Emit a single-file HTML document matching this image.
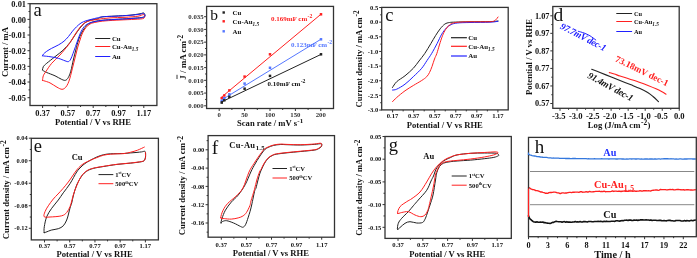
<!DOCTYPE html>
<html><head><meta charset="utf-8"><style>
html,body{margin:0;padding:0;background:#fff;width:697px;height:258px;overflow:hidden}
svg{display:block;will-change:transform}
</style></head><body>
<svg width="697" height="258" viewBox="0 0 697 258">
<rect width="697" height="258" fill="#fff"/>
<line x1="30" y1="3.7" x2="27.5" y2="3.7" stroke="#333" stroke-width="1.0"/>
<line x1="30" y1="19.37" x2="27.5" y2="19.37" stroke="#333" stroke-width="1.0"/>
<line x1="30" y1="35.03" x2="27.5" y2="35.03" stroke="#333" stroke-width="1.0"/>
<line x1="30" y1="50.7" x2="27.5" y2="50.7" stroke="#333" stroke-width="1.0"/>
<line x1="30" y1="66.37" x2="27.5" y2="66.37" stroke="#333" stroke-width="1.0"/>
<line x1="30" y1="82.03" x2="27.5" y2="82.03" stroke="#333" stroke-width="1.0"/>
<line x1="30" y1="97.7" x2="27.5" y2="97.7" stroke="#333" stroke-width="1.0"/>
<line x1="30" y1="11.53" x2="28.5" y2="11.53" stroke="#333" stroke-width="1.0"/>
<line x1="30" y1="27.2" x2="28.5" y2="27.2" stroke="#333" stroke-width="1.0"/>
<line x1="30" y1="42.87" x2="28.5" y2="42.87" stroke="#333" stroke-width="1.0"/>
<line x1="30" y1="58.53" x2="28.5" y2="58.53" stroke="#333" stroke-width="1.0"/>
<line x1="30" y1="74.2" x2="28.5" y2="74.2" stroke="#333" stroke-width="1.0"/>
<line x1="30" y1="89.87" x2="28.5" y2="89.87" stroke="#333" stroke-width="1.0"/>
<line x1="42.6" y1="105.5" x2="42.6" y2="108" stroke="#333" stroke-width="1.0"/>
<line x1="67.9" y1="105.5" x2="67.9" y2="108" stroke="#333" stroke-width="1.0"/>
<line x1="93.2" y1="105.5" x2="93.2" y2="108" stroke="#333" stroke-width="1.0"/>
<line x1="118.5" y1="105.5" x2="118.5" y2="108" stroke="#333" stroke-width="1.0"/>
<line x1="143.8" y1="105.5" x2="143.8" y2="108" stroke="#333" stroke-width="1.0"/>
<line x1="55.25" y1="105.5" x2="55.25" y2="107" stroke="#333" stroke-width="1.0"/>
<line x1="80.55" y1="105.5" x2="80.55" y2="107" stroke="#333" stroke-width="1.0"/>
<line x1="105.85" y1="105.5" x2="105.85" y2="107" stroke="#333" stroke-width="1.0"/>
<line x1="131.15" y1="105.5" x2="131.15" y2="107" stroke="#333" stroke-width="1.0"/>
<text x="26" y="6.9" font-family='"Liberation Serif", serif' font-size="8.4" font-weight="bold" fill="#111" text-anchor="end" >0.01</text>
<text x="26" y="22.57" font-family='"Liberation Serif", serif' font-size="8.4" font-weight="bold" fill="#111" text-anchor="end" >0.00</text>
<text x="26" y="38.23" font-family='"Liberation Serif", serif' font-size="8.4" font-weight="bold" fill="#111" text-anchor="end" >-0.01</text>
<text x="26" y="53.9" font-family='"Liberation Serif", serif' font-size="8.4" font-weight="bold" fill="#111" text-anchor="end" >-0.02</text>
<text x="26" y="69.57" font-family='"Liberation Serif", serif' font-size="8.4" font-weight="bold" fill="#111" text-anchor="end" >-0.03</text>
<text x="26" y="85.23" font-family='"Liberation Serif", serif' font-size="8.4" font-weight="bold" fill="#111" text-anchor="end" >-0.04</text>
<text x="26" y="100.9" font-family='"Liberation Serif", serif' font-size="8.4" font-weight="bold" fill="#111" text-anchor="end" >-0.05</text>
<text x="42.6" y="116.1" font-family='"Liberation Serif", serif' font-size="8.4" font-weight="bold" fill="#111" text-anchor="middle" >0.37</text>
<text x="67.9" y="116.1" font-family='"Liberation Serif", serif' font-size="8.4" font-weight="bold" fill="#111" text-anchor="middle" >0.57</text>
<text x="93.2" y="116.1" font-family='"Liberation Serif", serif' font-size="8.4" font-weight="bold" fill="#111" text-anchor="middle" >0.77</text>
<text x="118.5" y="116.1" font-family='"Liberation Serif", serif' font-size="8.4" font-weight="bold" fill="#111" text-anchor="middle" >0.97</text>
<text x="143.8" y="116.1" font-family='"Liberation Serif", serif' font-size="8.4" font-weight="bold" fill="#111" text-anchor="middle" >1.17</text>
<text x="93" y="124.7" font-family='"Liberation Serif", serif' font-size="8.6" font-weight="bold" fill="#111" text-anchor="middle" >Potential / V vs RHE</text>
<text x="7.5" y="52" font-family='"Liberation Serif", serif' font-size="8.6" font-weight="bold" fill="#111" text-anchor="middle" transform="rotate(-90 7.5 52)" >Current / mA</text>
<text x="33.4" y="15.8" font-family='"Liberation Serif", serif' font-size="18.5" font-weight="normal" fill="#111" text-anchor="start" >a</text>
<line x1="95.2" y1="38.5" x2="110.3" y2="38.5" stroke="#222" stroke-width="1.0"/>
<text x="111.9" y="40.9" font-family='"Liberation Serif", serif' font-size="6.9" font-weight="bold" fill="#111" text-anchor="start" >Cu</text>
<line x1="95.2" y1="46.5" x2="110.3" y2="46.5" stroke="#ff2020" stroke-width="1.0"/>
<text x="111.9" y="48.9" font-family='"Liberation Serif", serif' font-size="6.9" font-weight="bold" fill="#111" text-anchor="start" >Cu-Au<tspan font-size="5.2" dy="1.8" font-style="italic">1.5</tspan></text>
<line x1="95.2" y1="56.5" x2="110.3" y2="56.5" stroke="#2020ff" stroke-width="1.0"/>
<text x="111.9" y="58.9" font-family='"Liberation Serif", serif' font-size="6.9" font-weight="bold" fill="#111" text-anchor="start" >Au</text>
<path d="M42.5,70 C42.63,69.45 42.6,67.82 43.3,66.7 C44,65.58 44.75,64.97 46.7,63.3 C48.65,61.63 52.23,58.92 55,56.7 C57.77,54.48 60.8,52.37 63.3,50 C65.8,47.63 68.05,45 70,42.5 C71.95,40 73.33,37.42 75,35 C76.67,32.58 78.37,30.02 80,28 C81.63,25.98 83.13,24.2 84.8,22.9 C86.47,21.6 87.93,20.87 90,20.2 C92.07,19.53 95.17,19.45 97.2,18.9 C99.23,18.35 99.23,17.37 102.2,16.9 C105.17,16.43 110.37,16.38 115,16.1 C119.63,15.82 125.83,15.58 130,15.2 C134.17,14.82 137.7,14.17 140,13.8 C142.3,13.43 143.17,12.47 143.8,13 C144.43,13.53 146.1,16.08 143.8,17 C141.5,17.92 134.8,18.1 130,18.5 C125.2,18.9 119.5,19.12 115,19.4 C110.5,19.68 106.33,19.87 103,20.2 C99.67,20.53 97.33,20.85 95,21.4 C92.67,21.95 90.67,22.48 89,23.5 C87.33,24.52 86.25,25.92 85,27.5 C83.75,29.08 82.58,30.92 81.5,33 C80.42,35.08 79.45,37.17 78.5,40 C77.55,42.83 76.67,46.67 75.8,50 C74.93,53.33 74.13,56.47 73.3,60 C72.47,63.53 71.63,68.28 70.8,71.2 C69.97,74.12 69.18,75.98 68.3,77.5 C67.42,79.02 66.6,79.98 65.5,80.3 C64.4,80.62 63.45,80.15 61.7,79.4 C59.95,78.65 57.5,76.95 55,75.8 C52.5,74.65 48.7,73.38 46.7,72.5 C44.7,71.62 43.62,70.83 43,70.5" fill="none" stroke="#222" stroke-width="1.0" stroke-linejoin="round" stroke-linecap="round" />
<path d="M42.5,80.5 C42.63,79.72 42.75,77.27 43.3,75.8 C43.85,74.33 44.4,73.78 45.8,71.7 C47.2,69.62 49.33,66.08 51.7,63.3 C54.07,60.52 57.23,58.05 60,55 C62.77,51.95 66.35,47.5 68.3,45 C70.25,42.5 70.4,42.03 71.7,40 C73,37.97 74.43,35.23 76.1,32.8 C77.77,30.37 79.83,27.27 81.7,25.4 C83.57,23.53 84.72,22.6 87.3,21.6 C89.88,20.6 93.42,20.02 97.2,19.4 C100.98,18.78 105.37,18.25 110,17.9 C114.63,17.55 120.33,17.58 125,17.3 C129.67,17.02 134.87,16.65 138,16.2 C141.13,15.75 142.83,14.25 143.8,14.6 C144.77,14.95 145.27,17.52 143.8,18.3 C142.33,19.08 138.97,19.02 135,19.3 C131.03,19.58 125,19.73 120,20 C115,20.27 109,20.53 105,20.9 C101,21.27 98.5,21.68 96,22.2 C93.5,22.72 91.67,23.12 90,24 C88.33,24.88 87.25,26 86,27.5 C84.75,29 83.5,30.92 82.5,33 C81.5,35.08 80.83,37.5 80,40 C79.17,42.5 78.25,45.33 77.5,48 C76.75,50.67 76.17,53.33 75.5,56 C74.83,58.67 74.17,61.33 73.5,64 C72.83,66.67 72.12,69.58 71.5,72 C70.88,74.42 70.38,76.58 69.8,78.5 C69.22,80.42 68.72,82 68,83.5 C67.28,85 66.5,86.53 65.5,87.5 C64.5,88.47 63.42,89.35 62,89.3 C60.58,89.25 59,88.27 57,87.2 C55,86.13 52.17,83.97 50,82.9 C47.83,81.83 45.25,81.2 44,80.8 C42.75,80.4 42.75,80.55 42.5,80.5" fill="none" stroke="#ff2020" stroke-width="1.0" stroke-linejoin="round" stroke-linecap="round" />
<path d="M42.5,55.8 C42.67,55.5 42.8,54.75 43.5,54 C44.2,53.25 45.33,52.25 46.7,51.3 C48.07,50.35 49.77,49.35 51.7,48.3 C53.63,47.25 56.25,46.18 58.3,45 C60.35,43.82 62.3,42.62 64,41.2 C65.7,39.78 67.08,38.17 68.5,36.5 C69.92,34.83 71.17,32.82 72.5,31.2 C73.83,29.58 75.08,28.17 76.5,26.8 C77.92,25.43 79.42,24 81,23 C82.58,22 84.17,21.43 86,20.8 C87.83,20.17 90.13,19.68 92,19.2 C93.87,18.72 95.3,18.32 97.2,17.9 C99.1,17.48 100.43,16.98 103.4,16.7 C106.37,16.42 110.57,16.43 115,16.2 C119.43,15.97 125.83,15.63 130,15.3 C134.17,14.97 137.7,14.52 140,14.2 C142.3,13.88 143.17,12.9 143.8,13.4 C144.43,13.9 146.1,16.33 143.8,17.2 C141.5,18.07 134.8,18.22 130,18.6 C125.2,18.98 119.43,19.22 115,19.5 C110.57,19.78 106.78,19.95 103.4,20.3 C100.02,20.65 97.18,21.07 94.7,21.6 C92.22,22.13 90.25,22.67 88.5,23.5 C86.75,24.33 85.53,25.05 84.2,26.6 C82.87,28.15 81.57,30.57 80.5,32.8 C79.43,35.03 78.63,37.72 77.8,40 C76.97,42.28 76.3,44.25 75.5,46.5 C74.7,48.75 73.78,51.42 73,53.5 C72.22,55.58 71.55,57.65 70.8,59 C70.05,60.35 69.47,61.3 68.5,61.6 C67.53,61.9 66.7,61.35 65,60.8 C63.3,60.25 60.8,58.98 58.3,58.3 C55.8,57.62 52.38,57.08 50,56.7 C47.62,56.32 45.25,56.15 44,56 C42.75,55.85 42.75,55.83 42.5,55.8" fill="none" stroke="#2020ff" stroke-width="1.0" stroke-linejoin="round" stroke-linecap="round" />
<rect x="30" y="3.7" width="126.9" height="101.8" fill="none" stroke="#333" stroke-width="1.3"/>
<line x1="206.6" y1="105.8" x2="204.1" y2="105.8" stroke="#333" stroke-width="1.0"/>
<line x1="206.6" y1="93.07" x2="204.1" y2="93.07" stroke="#333" stroke-width="1.0"/>
<line x1="206.6" y1="80.34" x2="204.1" y2="80.34" stroke="#333" stroke-width="1.0"/>
<line x1="206.6" y1="67.61" x2="204.1" y2="67.61" stroke="#333" stroke-width="1.0"/>
<line x1="206.6" y1="54.88" x2="204.1" y2="54.88" stroke="#333" stroke-width="1.0"/>
<line x1="206.6" y1="42.15" x2="204.1" y2="42.15" stroke="#333" stroke-width="1.0"/>
<line x1="206.6" y1="29.42" x2="204.1" y2="29.42" stroke="#333" stroke-width="1.0"/>
<line x1="206.6" y1="16.69" x2="204.1" y2="16.69" stroke="#333" stroke-width="1.0"/>
<line x1="206.6" y1="99.44" x2="205.1" y2="99.44" stroke="#333" stroke-width="1.0"/>
<line x1="206.6" y1="86.7" x2="205.1" y2="86.7" stroke="#333" stroke-width="1.0"/>
<line x1="206.6" y1="73.97" x2="205.1" y2="73.97" stroke="#333" stroke-width="1.0"/>
<line x1="206.6" y1="61.24" x2="205.1" y2="61.24" stroke="#333" stroke-width="1.0"/>
<line x1="206.6" y1="48.51" x2="205.1" y2="48.51" stroke="#333" stroke-width="1.0"/>
<line x1="206.6" y1="35.78" x2="205.1" y2="35.78" stroke="#333" stroke-width="1.0"/>
<line x1="206.6" y1="23.05" x2="205.1" y2="23.05" stroke="#333" stroke-width="1.0"/>
<text x="203.6" y="108.1" font-family='"Liberation Serif", serif' font-size="6.8" font-weight="bold" fill="#333" text-anchor="end" >0.000</text>
<text x="203.6" y="95.37" font-family='"Liberation Serif", serif' font-size="6.8" font-weight="bold" fill="#333" text-anchor="end" >0.005</text>
<text x="203.6" y="82.64" font-family='"Liberation Serif", serif' font-size="6.8" font-weight="bold" fill="#333" text-anchor="end" >0.010</text>
<text x="203.6" y="69.91" font-family='"Liberation Serif", serif' font-size="6.8" font-weight="bold" fill="#333" text-anchor="end" >0.015</text>
<text x="203.6" y="57.18" font-family='"Liberation Serif", serif' font-size="6.8" font-weight="bold" fill="#333" text-anchor="end" >0.020</text>
<text x="203.6" y="44.45" font-family='"Liberation Serif", serif' font-size="6.8" font-weight="bold" fill="#333" text-anchor="end" >0.025</text>
<text x="203.6" y="31.72" font-family='"Liberation Serif", serif' font-size="6.8" font-weight="bold" fill="#333" text-anchor="end" >0.030</text>
<text x="203.6" y="18.99" font-family='"Liberation Serif", serif' font-size="6.8" font-weight="bold" fill="#333" text-anchor="end" >0.035</text>
<line x1="219.2" y1="108.5" x2="219.2" y2="111" stroke="#333" stroke-width="1.0"/>
<line x1="244.6" y1="108.5" x2="244.6" y2="111" stroke="#333" stroke-width="1.0"/>
<line x1="270" y1="108.5" x2="270" y2="111" stroke="#333" stroke-width="1.0"/>
<line x1="295.4" y1="108.5" x2="295.4" y2="111" stroke="#333" stroke-width="1.0"/>
<line x1="320.8" y1="108.5" x2="320.8" y2="111" stroke="#333" stroke-width="1.0"/>
<line x1="231.9" y1="108.5" x2="231.9" y2="110" stroke="#333" stroke-width="1.0"/>
<line x1="257.3" y1="108.5" x2="257.3" y2="110" stroke="#333" stroke-width="1.0"/>
<line x1="282.7" y1="108.5" x2="282.7" y2="110" stroke="#333" stroke-width="1.0"/>
<line x1="308.1" y1="108.5" x2="308.1" y2="110" stroke="#333" stroke-width="1.0"/>
<text x="219.2" y="117" font-family='"Liberation Serif", serif' font-size="6.8" font-weight="bold" fill="#333" text-anchor="middle" >0</text>
<text x="244.6" y="117" font-family='"Liberation Serif", serif' font-size="6.8" font-weight="bold" fill="#333" text-anchor="middle" >50</text>
<text x="270" y="117" font-family='"Liberation Serif", serif' font-size="6.8" font-weight="bold" fill="#333" text-anchor="middle" >100</text>
<text x="295.4" y="117" font-family='"Liberation Serif", serif' font-size="6.8" font-weight="bold" fill="#333" text-anchor="middle" >150</text>
<text x="320.8" y="117" font-family='"Liberation Serif", serif' font-size="6.8" font-weight="bold" fill="#333" text-anchor="middle" >200</text>
<text x="237" y="125.8" font-family='"Liberation Serif", serif' font-size="8.6" font-weight="bold" fill="#111" text-anchor="start" >Scan rate / mV s<tspan font-size="7" dx="0.3" dy="-2.7">-1</tspan></text>
<text x="185.9" y="57.3" font-family='"Liberation Serif", serif' font-size="9.0" font-weight="bold" fill="#111" text-anchor="middle" transform="rotate(-90 185.9 57.3)" ><tspan>J</tspan> / mA cm<tspan font-size="7.2" dy="-3.0">-2</tspan></text>
<line x1="177" y1="79" x2="177" y2="74.8" stroke="#222" stroke-width="0.9"/>
<text x="210.3" y="20" font-family='"Liberation Serif", serif' font-size="15.5" font-weight="normal" fill="#111" text-anchor="start" >b</text>
<rect x="222.5" y="11.3" width="2.4" height="2.4" fill="#222"/>
<text x="232.6" y="14.9" font-family='"Liberation Serif", serif' font-size="6.9" font-weight="bold" fill="#111" text-anchor="start" >Cu</text>
<rect x="222.5" y="20.1" width="2.4" height="2.4" fill="#ff2020"/>
<text x="232.6" y="23.7" font-family='"Liberation Serif", serif' font-size="6.9" font-weight="bold" fill="#111" text-anchor="start" >Cu-Au<tspan font-size="5.2" dy="1.8" font-style="italic">1.5</tspan></text>
<rect x="222.5" y="30.1" width="2.4" height="2.4" fill="#5577ff"/>
<text x="232.6" y="33.7" font-family='"Liberation Serif", serif' font-size="6.9" font-weight="bold" fill="#111" text-anchor="start" >Au</text>
<line x1="221" y1="97.6" x2="321" y2="14.2" stroke="#ff2020" stroke-width="1.0"/>
<rect x="220.49" y="96.95" width="2.5" height="2.5" fill="#ff2020"/>
<rect x="223.03" y="94.25" width="2.5" height="2.5" fill="#ff2020"/>
<rect x="228.11" y="89.15" width="2.5" height="2.5" fill="#ff2020"/>
<rect x="243.35" y="75.35" width="2.5" height="2.5" fill="#ff2020"/>
<rect x="268.75" y="53.05" width="2.5" height="2.5" fill="#ff2020"/>
<rect x="319.75" y="13.05" width="2.5" height="2.5" fill="#ff2020"/>
<line x1="221" y1="100.3" x2="321" y2="39.2" stroke="#5577ff" stroke-width="1.0"/>
<rect x="220.49" y="99.85" width="2.5" height="2.5" fill="#5577ff"/>
<rect x="223.03" y="96.95" width="2.5" height="2.5" fill="#5577ff"/>
<rect x="228.11" y="93.05" width="2.5" height="2.5" fill="#5577ff"/>
<rect x="243.35" y="82.35" width="2.5" height="2.5" fill="#5577ff"/>
<rect x="268.75" y="66.55" width="2.5" height="2.5" fill="#5577ff"/>
<rect x="319.75" y="38.05" width="2.5" height="2.5" fill="#5577ff"/>
<line x1="221" y1="102.2" x2="321" y2="54.4" stroke="#222" stroke-width="1.0"/>
<rect x="220.49" y="101.35" width="2.5" height="2.5" fill="#222"/>
<rect x="223.03" y="99.05" width="2.5" height="2.5" fill="#222"/>
<rect x="228.11" y="95.55" width="2.5" height="2.5" fill="#222"/>
<rect x="243.35" y="87.45" width="2.5" height="2.5" fill="#222"/>
<rect x="268.75" y="74.65" width="2.5" height="2.5" fill="#222"/>
<rect x="319.75" y="53.05" width="2.5" height="2.5" fill="#222"/>
<text x="0" y="0" font-family='"Liberation Serif", serif' font-size="6.6" font-weight="bold" fill="#ff2020" text-anchor="start" transform="translate(271 21) scale(1.06 1)" >0.169mF cm<tspan font-size="5.4" dx="0.3" dy="-2.6">-2</tspan></text>
<text x="0" y="0" font-family='"Liberation Serif", serif' font-size="6.6" font-weight="bold" fill="#5577ff" text-anchor="start" transform="translate(290.9 46.6) scale(1.06 1)" >0.123mF cm<tspan font-size="5.4" dx="0.3" dy="-2.6">-2</tspan></text>
<text x="0" y="0" font-family='"Liberation Serif", serif' font-size="6.6" font-weight="bold" fill="#111" text-anchor="start" transform="translate(267.6 85.9) scale(1.06 1)" >0.10mF cm<tspan font-size="5.4" dx="0.3" dy="-2.6">-2</tspan></text>
<rect x="206.6" y="6.4" width="126.9" height="102.1" fill="none" stroke="#333" stroke-width="1.3"/>
<line x1="381.7" y1="7.5" x2="379.2" y2="7.5" stroke="#333" stroke-width="1.0"/>
<line x1="381.7" y1="22.15" x2="379.2" y2="22.15" stroke="#333" stroke-width="1.0"/>
<line x1="381.7" y1="36.8" x2="379.2" y2="36.8" stroke="#333" stroke-width="1.0"/>
<line x1="381.7" y1="51.45" x2="379.2" y2="51.45" stroke="#333" stroke-width="1.0"/>
<line x1="381.7" y1="66.1" x2="379.2" y2="66.1" stroke="#333" stroke-width="1.0"/>
<line x1="381.7" y1="80.75" x2="379.2" y2="80.75" stroke="#333" stroke-width="1.0"/>
<line x1="381.7" y1="95.4" x2="379.2" y2="95.4" stroke="#333" stroke-width="1.0"/>
<line x1="381.7" y1="110.05" x2="379.2" y2="110.05" stroke="#333" stroke-width="1.0"/>
<line x1="381.7" y1="14.82" x2="380.2" y2="14.82" stroke="#333" stroke-width="1.0"/>
<line x1="381.7" y1="29.47" x2="380.2" y2="29.47" stroke="#333" stroke-width="1.0"/>
<line x1="381.7" y1="44.12" x2="380.2" y2="44.12" stroke="#333" stroke-width="1.0"/>
<line x1="381.7" y1="58.77" x2="380.2" y2="58.77" stroke="#333" stroke-width="1.0"/>
<line x1="381.7" y1="73.42" x2="380.2" y2="73.42" stroke="#333" stroke-width="1.0"/>
<line x1="381.7" y1="88.08" x2="380.2" y2="88.08" stroke="#333" stroke-width="1.0"/>
<line x1="381.7" y1="102.72" x2="380.2" y2="102.72" stroke="#333" stroke-width="1.0"/>
<text x="378.2" y="9.8" font-family='"Liberation Serif", serif' font-size="6.6" font-weight="bold" fill="#111" text-anchor="end" >0.5</text>
<text x="378.2" y="24.45" font-family='"Liberation Serif", serif' font-size="6.6" font-weight="bold" fill="#111" text-anchor="end" >0.0</text>
<text x="378.2" y="39.1" font-family='"Liberation Serif", serif' font-size="6.6" font-weight="bold" fill="#111" text-anchor="end" >-0.5</text>
<text x="378.2" y="53.75" font-family='"Liberation Serif", serif' font-size="6.6" font-weight="bold" fill="#111" text-anchor="end" >-1.0</text>
<text x="378.2" y="68.4" font-family='"Liberation Serif", serif' font-size="6.6" font-weight="bold" fill="#111" text-anchor="end" >-1.5</text>
<text x="378.2" y="83.05" font-family='"Liberation Serif", serif' font-size="6.6" font-weight="bold" fill="#111" text-anchor="end" >-2.0</text>
<text x="378.2" y="97.7" font-family='"Liberation Serif", serif' font-size="6.6" font-weight="bold" fill="#111" text-anchor="end" >-2.5</text>
<text x="378.2" y="112.35" font-family='"Liberation Serif", serif' font-size="6.6" font-weight="bold" fill="#111" text-anchor="end" >-3.0</text>
<line x1="392.6" y1="109.9" x2="392.6" y2="112.4" stroke="#333" stroke-width="1.0"/>
<line x1="413.66" y1="109.9" x2="413.66" y2="112.4" stroke="#333" stroke-width="1.0"/>
<line x1="434.72" y1="109.9" x2="434.72" y2="112.4" stroke="#333" stroke-width="1.0"/>
<line x1="455.78" y1="109.9" x2="455.78" y2="112.4" stroke="#333" stroke-width="1.0"/>
<line x1="476.84" y1="109.9" x2="476.84" y2="112.4" stroke="#333" stroke-width="1.0"/>
<line x1="497.9" y1="109.9" x2="497.9" y2="112.4" stroke="#333" stroke-width="1.0"/>
<line x1="403.13" y1="109.9" x2="403.13" y2="111.4" stroke="#333" stroke-width="1.0"/>
<line x1="424.19" y1="109.9" x2="424.19" y2="111.4" stroke="#333" stroke-width="1.0"/>
<line x1="445.25" y1="109.9" x2="445.25" y2="111.4" stroke="#333" stroke-width="1.0"/>
<line x1="466.31" y1="109.9" x2="466.31" y2="111.4" stroke="#333" stroke-width="1.0"/>
<line x1="487.37" y1="109.9" x2="487.37" y2="111.4" stroke="#333" stroke-width="1.0"/>
<text x="392.6" y="118.4" font-family='"Liberation Serif", serif' font-size="6.6" font-weight="bold" fill="#111" text-anchor="middle" >0.17</text>
<text x="413.66" y="118.4" font-family='"Liberation Serif", serif' font-size="6.6" font-weight="bold" fill="#111" text-anchor="middle" >0.37</text>
<text x="434.72" y="118.4" font-family='"Liberation Serif", serif' font-size="6.6" font-weight="bold" fill="#111" text-anchor="middle" >0.57</text>
<text x="455.78" y="118.4" font-family='"Liberation Serif", serif' font-size="6.6" font-weight="bold" fill="#111" text-anchor="middle" >0.77</text>
<text x="476.84" y="118.4" font-family='"Liberation Serif", serif' font-size="6.6" font-weight="bold" fill="#111" text-anchor="middle" >0.97</text>
<text x="497.9" y="118.4" font-family='"Liberation Serif", serif' font-size="6.6" font-weight="bold" fill="#111" text-anchor="middle" >1.17</text>
<text x="444.8" y="127.7" font-family='"Liberation Serif", serif' font-size="8.6" font-weight="bold" fill="#111" text-anchor="middle" >Potential / V vs RHE</text>
<text x="361.6" y="107.5" font-family='"Liberation Serif", serif' font-size="8.53" font-weight="bold" fill="#111" text-anchor="start" transform="rotate(-90 361.6 107.5)" >Current density / mA cm<tspan font-size="7.34" dx="0.8" dy="-2.1">-2</tspan></text>
<text x="385.3" y="20.8" font-family='"Liberation Serif", serif' font-size="18.5" font-weight="normal" fill="#111" text-anchor="start" >c</text>
<line x1="451" y1="37.7" x2="466.9" y2="37.7" stroke="#222" stroke-width="1.2"/>
<text x="468.2" y="40.1" font-family='"Liberation Serif", serif' font-size="6.9" font-weight="bold" fill="#111" text-anchor="start" >Cu</text>
<line x1="451" y1="46.3" x2="466.9" y2="46.3" stroke="#ff2020" stroke-width="1.2"/>
<text x="468.2" y="48.7" font-family='"Liberation Serif", serif' font-size="6.9" font-weight="bold" fill="#111" text-anchor="start" >Cu-Au<tspan font-size="5.2" dy="1.8" font-style="italic">1.5</tspan></text>
<line x1="451" y1="56" x2="466.9" y2="56" stroke="#2020ff" stroke-width="1.2"/>
<text x="468.2" y="58.4" font-family='"Liberation Serif", serif' font-size="6.9" font-weight="bold" fill="#111" text-anchor="start" >Au</text>
<path d="M392.5,87.5 C393.2,86.53 394.62,83.65 396.7,81.7 C398.78,79.75 402.23,78.03 405,75.8 C407.77,73.57 410.97,70.77 413.3,68.3 C415.63,65.83 417.1,63.45 419,61 C420.9,58.55 422.72,56.52 424.7,53.6 C426.68,50.68 429.1,46.48 430.9,43.5 C432.7,40.52 433.95,38.15 435.5,35.7 C437.05,33.25 438.65,30.73 440.2,28.8 C441.75,26.87 443.25,25.15 444.8,24.1 C446.35,23.05 447.68,22.83 449.5,22.5 C451.32,22.17 452.28,22.22 455.7,22.1 C459.12,21.98 464.28,21.88 470,21.8 C475.72,21.72 485.33,21.73 490,21.6 C494.67,21.47 496.67,21.1 498,21" fill="none" stroke="#222" stroke-width="1.0" stroke-linejoin="round" stroke-linecap="round" />
<path d="M392.5,90 C393.2,89.87 394.62,90.17 396.7,89.2 C398.78,88.23 402.23,86.28 405,84.2 C407.77,82.12 410.52,79.35 413.3,76.7 C416.08,74.05 419.42,71 421.7,68.3 C423.98,65.6 425.35,62.95 427,60.5 C428.65,58.05 429.92,56.43 431.6,53.6 C433.28,50.77 435.42,46.73 437.1,43.5 C438.78,40.27 440.15,36.78 441.7,34.2 C443.25,31.62 444.83,29.6 446.4,28 C447.97,26.4 449.28,25.43 451.1,24.6 C452.92,23.77 454.15,23.35 457.3,23 C460.45,22.65 464.55,22.63 470,22.5 C475.45,22.37 485.33,22.4 490,22.2 C494.67,22 496.67,21.45 498,21.3" fill="none" stroke="#2020ff" stroke-width="1.0" stroke-linejoin="round" stroke-linecap="round" />
<path d="M392.5,101.7 C393.2,101 394.62,99.32 396.7,97.5 C398.78,95.68 402.23,92.8 405,90.8 C407.77,88.8 410.52,87.22 413.3,85.5 C416.08,83.78 419.47,81.97 421.7,80.5 C423.93,79.03 425.4,78.03 426.7,76.7 C428,75.37 428.62,74.2 429.5,72.5 C430.38,70.8 431.17,68.75 432,66.5 C432.83,64.25 433.7,61.15 434.5,59 C435.3,56.85 435.98,55.93 436.8,53.6 C437.62,51.27 438.45,47.98 439.4,45 C440.35,42.02 441.47,38.28 442.5,35.7 C443.53,33.12 444.43,31.3 445.6,29.5 C446.77,27.7 448.2,25.98 449.5,24.9 C450.8,23.82 451.58,23.47 453.4,23 C455.22,22.53 457.63,22.3 460.4,22.1 C463.17,21.9 465.07,21.87 470,21.8 C474.93,21.73 485.83,21.92 490,21.7 C494.17,21.48 493.67,21.28 495,20.5 C496.33,19.72 497.5,17.58 498,17" fill="none" stroke="#ff2020" stroke-width="1.0" stroke-linejoin="round" stroke-linecap="round" />
<rect x="381.7" y="7.4" width="126.5" height="102.5" fill="none" stroke="#333" stroke-width="1.3"/>
<line x1="552.8" y1="15.8" x2="550.3" y2="15.8" stroke="#333" stroke-width="1.0"/>
<line x1="552.8" y1="33.34" x2="550.3" y2="33.34" stroke="#333" stroke-width="1.0"/>
<line x1="552.8" y1="50.88" x2="550.3" y2="50.88" stroke="#333" stroke-width="1.0"/>
<line x1="552.8" y1="68.42" x2="550.3" y2="68.42" stroke="#333" stroke-width="1.0"/>
<line x1="552.8" y1="85.96" x2="550.3" y2="85.96" stroke="#333" stroke-width="1.0"/>
<line x1="552.8" y1="103.5" x2="550.3" y2="103.5" stroke="#333" stroke-width="1.0"/>
<line x1="552.8" y1="24.57" x2="551.3" y2="24.57" stroke="#333" stroke-width="1.0"/>
<line x1="552.8" y1="42.11" x2="551.3" y2="42.11" stroke="#333" stroke-width="1.0"/>
<line x1="552.8" y1="59.65" x2="551.3" y2="59.65" stroke="#333" stroke-width="1.0"/>
<line x1="552.8" y1="77.19" x2="551.3" y2="77.19" stroke="#333" stroke-width="1.0"/>
<line x1="552.8" y1="94.73" x2="551.3" y2="94.73" stroke="#333" stroke-width="1.0"/>
<text x="549.5" y="18.6" font-family='"Liberation Serif", serif' font-size="8.3" font-weight="bold" fill="#111" text-anchor="end" >1.07</text>
<text x="549.5" y="36.14" font-family='"Liberation Serif", serif' font-size="8.3" font-weight="bold" fill="#111" text-anchor="end" >0.97</text>
<text x="549.5" y="53.68" font-family='"Liberation Serif", serif' font-size="8.3" font-weight="bold" fill="#111" text-anchor="end" >0.87</text>
<text x="549.5" y="71.22" font-family='"Liberation Serif", serif' font-size="8.3" font-weight="bold" fill="#111" text-anchor="end" >0.77</text>
<text x="549.5" y="88.76" font-family='"Liberation Serif", serif' font-size="8.3" font-weight="bold" fill="#111" text-anchor="end" >0.67</text>
<text x="549.5" y="106.3" font-family='"Liberation Serif", serif' font-size="8.3" font-weight="bold" fill="#111" text-anchor="end" >0.57</text>
<line x1="560" y1="108.3" x2="560" y2="110.8" stroke="#333" stroke-width="1.0"/>
<line x1="577.04" y1="108.3" x2="577.04" y2="110.8" stroke="#333" stroke-width="1.0"/>
<line x1="594.08" y1="108.3" x2="594.08" y2="110.8" stroke="#333" stroke-width="1.0"/>
<line x1="611.12" y1="108.3" x2="611.12" y2="110.8" stroke="#333" stroke-width="1.0"/>
<line x1="628.16" y1="108.3" x2="628.16" y2="110.8" stroke="#333" stroke-width="1.0"/>
<line x1="645.2" y1="108.3" x2="645.2" y2="110.8" stroke="#333" stroke-width="1.0"/>
<line x1="662.24" y1="108.3" x2="662.24" y2="110.8" stroke="#333" stroke-width="1.0"/>
<line x1="679.28" y1="108.3" x2="679.28" y2="110.8" stroke="#333" stroke-width="1.0"/>
<line x1="568.52" y1="108.3" x2="568.52" y2="109.8" stroke="#333" stroke-width="1.0"/>
<line x1="585.56" y1="108.3" x2="585.56" y2="109.8" stroke="#333" stroke-width="1.0"/>
<line x1="602.6" y1="108.3" x2="602.6" y2="109.8" stroke="#333" stroke-width="1.0"/>
<line x1="619.64" y1="108.3" x2="619.64" y2="109.8" stroke="#333" stroke-width="1.0"/>
<line x1="636.68" y1="108.3" x2="636.68" y2="109.8" stroke="#333" stroke-width="1.0"/>
<line x1="653.72" y1="108.3" x2="653.72" y2="109.8" stroke="#333" stroke-width="1.0"/>
<line x1="670.76" y1="108.3" x2="670.76" y2="109.8" stroke="#333" stroke-width="1.0"/>
<text x="558.7" y="119" font-family='"Liberation Serif", serif' font-size="8.6" font-weight="bold" fill="#111" text-anchor="middle" >-3.5</text>
<text x="575.74" y="119" font-family='"Liberation Serif", serif' font-size="8.6" font-weight="bold" fill="#111" text-anchor="middle" >-3.0</text>
<text x="592.78" y="119" font-family='"Liberation Serif", serif' font-size="8.6" font-weight="bold" fill="#111" text-anchor="middle" >-2.5</text>
<text x="609.82" y="119" font-family='"Liberation Serif", serif' font-size="8.6" font-weight="bold" fill="#111" text-anchor="middle" >-2.0</text>
<text x="626.86" y="119" font-family='"Liberation Serif", serif' font-size="8.6" font-weight="bold" fill="#111" text-anchor="middle" >-1.5</text>
<text x="643.9" y="119" font-family='"Liberation Serif", serif' font-size="8.6" font-weight="bold" fill="#111" text-anchor="middle" >-1.0</text>
<text x="660.94" y="119" font-family='"Liberation Serif", serif' font-size="8.6" font-weight="bold" fill="#111" text-anchor="middle" >-0.5</text>
<text x="679.28" y="119" font-family='"Liberation Serif", serif' font-size="8.6" font-weight="bold" fill="#111" text-anchor="middle" >0.0</text>
<text x="587.8" y="128.4" font-family='"Liberation Serif", serif' font-size="8.7" font-weight="bold" fill="#111" text-anchor="start" >Log (J/mA cm<tspan font-size="7.4" dx="0.6" dy="-3.4">-2</tspan><tspan dx="0.4" dy="3.4">)</tspan></text>
<text x="531.5" y="57" font-family='"Liberation Serif", serif' font-size="8.6" font-weight="bold" fill="#111" text-anchor="middle" transform="rotate(-90 531.5 57)" >Potential / V vs RHE</text>
<text x="553.6" y="20.8" font-family='"Liberation Serif", serif' font-size="19.5" font-weight="normal" fill="#111" text-anchor="start" >d</text>
<line x1="616.3" y1="13.5" x2="632.1" y2="13.5" stroke="#222" stroke-width="1.0"/>
<text x="633.9" y="15.8" font-family='"Liberation Serif", serif' font-size="6.4" font-weight="bold" fill="#111" text-anchor="start" >Cu</text>
<line x1="616.3" y1="21.5" x2="632.1" y2="21.5" stroke="#ff2020" stroke-width="1.0"/>
<text x="633.9" y="23.8" font-family='"Liberation Serif", serif' font-size="6.4" font-weight="bold" fill="#111" text-anchor="start" >Cu-Au<tspan font-size="5.2" dy="1.8" font-style="italic">1.5</tspan></text>
<line x1="616.3" y1="31.5" x2="632.1" y2="31.5" stroke="#2020ff" stroke-width="1.0"/>
<text x="633.9" y="33.8" font-family='"Liberation Serif", serif' font-size="6.4" font-weight="bold" fill="#111" text-anchor="start" >Au</text>
<path d="M578.3,31.3 C579.25,31.58 582.05,32.25 584,33 C585.95,33.75 588.03,34.63 590,35.8 C591.97,36.97 594.83,39.3 595.8,40" fill="none" stroke="#2020ff" stroke-width="1.0" stroke-linejoin="round" stroke-linecap="round" />
<path d="M591.7,69.2 C593.08,69.75 596.95,71.28 600,72.5 C603.05,73.72 606.67,75.17 610,76.5 C613.33,77.83 616.5,79.12 620,80.5 C623.5,81.88 627.67,83.47 631,84.8 C634.33,86.13 637.22,87.22 640,88.5 C642.78,89.78 645.53,91.17 647.7,92.5 C649.87,93.83 651.2,94.97 653,96.5 C654.8,98.03 657.58,100.83 658.5,101.7" fill="none" stroke="#222" stroke-width="1.1" stroke-linejoin="round" stroke-linecap="round" />
<path d="M609.3,72.6 C610.13,72.83 612.52,73.43 614.3,74 C616.08,74.57 617.38,75.13 620,76 C622.62,76.87 626.67,78.12 630,79.2 C633.33,80.28 637,81.45 640,82.5 C643,83.55 645.33,84.45 648,85.5 C650.67,86.55 653.67,87.75 656,88.8 C658.33,89.85 660.33,90.9 662,91.8 C663.67,92.7 665.33,93.8 666,94.2" fill="none" stroke="#ff2020" stroke-width="1.1" stroke-linejoin="round" stroke-linecap="round" />
<text x="559.6" y="28.2" font-family='"Liberation Serif", serif' font-size="9.5" font-weight="bold" fill="#2020ff" text-anchor="start" font-style="italic" transform="rotate(27.5 559.6 28.2)" letter-spacing="-0.3">97.7mV dec-1</text>
<text x="614.6" y="61" font-family='"Liberation Serif", serif' font-size="9.2" font-weight="bold" fill="#ff2020" text-anchor="start" transform="rotate(26.0 614.6 61)" >73.18mV dec-1</text>
<text x="587" y="77.4" font-family='"Liberation Serif", serif' font-size="9.5" font-weight="bold" fill="#111" text-anchor="start" font-style="italic" transform="rotate(28.5 587 77.4)" letter-spacing="-0.3">91.4mV dec-1</text>
<rect x="552.8" y="6.5" width="126.4" height="101.8" fill="none" stroke="#333" stroke-width="1.3"/>
<line x1="31.3" y1="138.2" x2="28.8" y2="138.2" stroke="#333" stroke-width="1.0"/>
<line x1="31.3" y1="160.72" x2="28.8" y2="160.72" stroke="#333" stroke-width="1.0"/>
<line x1="31.3" y1="183.24" x2="28.8" y2="183.24" stroke="#333" stroke-width="1.0"/>
<line x1="31.3" y1="205.76" x2="28.8" y2="205.76" stroke="#333" stroke-width="1.0"/>
<line x1="31.3" y1="228.28" x2="28.8" y2="228.28" stroke="#333" stroke-width="1.0"/>
<line x1="31.3" y1="149.46" x2="29.8" y2="149.46" stroke="#333" stroke-width="1.0"/>
<line x1="31.3" y1="171.98" x2="29.8" y2="171.98" stroke="#333" stroke-width="1.0"/>
<line x1="31.3" y1="194.5" x2="29.8" y2="194.5" stroke="#333" stroke-width="1.0"/>
<line x1="31.3" y1="217.02" x2="29.8" y2="217.02" stroke="#333" stroke-width="1.0"/>
<text x="27.6" y="140.4" font-family='"Liberation Serif", serif' font-size="6.4" font-weight="bold" fill="#111" text-anchor="end" >0.04</text>
<text x="27.6" y="162.92" font-family='"Liberation Serif", serif' font-size="6.4" font-weight="bold" fill="#111" text-anchor="end" >0.00</text>
<text x="27.6" y="185.44" font-family='"Liberation Serif", serif' font-size="6.4" font-weight="bold" fill="#111" text-anchor="end" >-0.04</text>
<text x="27.6" y="207.96" font-family='"Liberation Serif", serif' font-size="6.4" font-weight="bold" fill="#111" text-anchor="end" >-0.08</text>
<text x="27.6" y="230.48" font-family='"Liberation Serif", serif' font-size="6.4" font-weight="bold" fill="#111" text-anchor="end" >-0.12</text>
<line x1="44.5" y1="239.9" x2="44.5" y2="242.4" stroke="#333" stroke-width="1.0"/>
<line x1="69.72" y1="239.9" x2="69.72" y2="242.4" stroke="#333" stroke-width="1.0"/>
<line x1="94.94" y1="239.9" x2="94.94" y2="242.4" stroke="#333" stroke-width="1.0"/>
<line x1="120.16" y1="239.9" x2="120.16" y2="242.4" stroke="#333" stroke-width="1.0"/>
<line x1="145.38" y1="239.9" x2="145.38" y2="242.4" stroke="#333" stroke-width="1.0"/>
<line x1="57.11" y1="239.9" x2="57.11" y2="241.4" stroke="#333" stroke-width="1.0"/>
<line x1="82.33" y1="239.9" x2="82.33" y2="241.4" stroke="#333" stroke-width="1.0"/>
<line x1="107.55" y1="239.9" x2="107.55" y2="241.4" stroke="#333" stroke-width="1.0"/>
<line x1="132.77" y1="239.9" x2="132.77" y2="241.4" stroke="#333" stroke-width="1.0"/>
<text x="44.5" y="248.1" font-family='"Liberation Serif", serif' font-size="6.6" font-weight="bold" fill="#111" text-anchor="middle" >0.37</text>
<text x="69.72" y="248.1" font-family='"Liberation Serif", serif' font-size="6.6" font-weight="bold" fill="#111" text-anchor="middle" >0.57</text>
<text x="94.94" y="248.1" font-family='"Liberation Serif", serif' font-size="6.6" font-weight="bold" fill="#111" text-anchor="middle" >0.77</text>
<text x="120.16" y="248.1" font-family='"Liberation Serif", serif' font-size="6.6" font-weight="bold" fill="#111" text-anchor="middle" >0.97</text>
<text x="145.38" y="248.1" font-family='"Liberation Serif", serif' font-size="6.6" font-weight="bold" fill="#111" text-anchor="middle" >1.17</text>
<text x="94.6" y="256.7" font-family='"Liberation Serif", serif' font-size="8.6" font-weight="bold" fill="#111" text-anchor="middle" >Potential / V vs RHE</text>
<text x="8.6" y="239.2" font-family='"Liberation Serif", serif' font-size="8.68" font-weight="bold" fill="#111" text-anchor="start" transform="rotate(-90 8.6 239.2)" >Current density / mA cm<tspan font-size="7.46" dx="0.8" dy="-2.1">-2</tspan></text>
<text x="33.8" y="151.5" font-family='"Liberation Serif", serif' font-size="18.5" font-weight="normal" fill="#111" text-anchor="start" >e</text>
<text x="71.7" y="160.3" font-family='"Liberation Serif", serif' font-size="8.5" font-weight="bold" fill="#111" text-anchor="start" >Cu</text>
<line x1="98.5" y1="174.6" x2="113.3" y2="174.6" stroke="#222" stroke-width="1.0"/>
<text x="115.3" y="176.9" font-family='"Liberation Serif", serif' font-size="6.6" font-weight="bold" fill="#111" text-anchor="start" >1<tspan font-size="4" dy="-2.5">st</tspan><tspan dy="2.5">CV</tspan></text>
<line x1="98.5" y1="183.7" x2="113.3" y2="183.7" stroke="#ff2020" stroke-width="1.0"/>
<text x="115.3" y="186" font-family='"Liberation Serif", serif' font-size="6.6" font-weight="bold" fill="#111" text-anchor="start" >500<tspan font-size="4" dy="-2.5">th</tspan><tspan dy="2.5">CV</tspan></text>
<path d="M44.2,232.5 C43.95,231.58 43.88,229.33 44.3,226.7 C44.72,224.07 45.47,219.77 46.7,216.7 C47.93,213.63 49.77,211.08 51.7,208.3 C53.63,205.52 56.37,202.58 58.3,200 C60.23,197.42 61.35,195.52 63.3,192.8 C65.25,190.08 67.77,187.17 70,183.7 C72.23,180.23 74.87,174.78 76.7,172 C78.53,169.22 79.62,168.42 81,167 C82.38,165.58 83.42,164.63 85,163.5 C86.58,162.37 88.53,161.28 90.5,160.2 C92.47,159.12 94.62,157.92 96.8,157 C98.98,156.08 101.33,155.23 103.6,154.7 C105.87,154.17 108.15,153.97 110.4,153.8 C112.65,153.63 114.85,153.75 117.1,153.7 C119.35,153.65 121.63,153.63 123.9,153.5 C126.17,153.37 128.52,153.08 130.7,152.9 C132.88,152.72 135.18,152.57 137,152.4 C138.82,152.23 140.23,152.03 141.6,151.9 C142.97,151.77 144.55,150.75 145.2,151.6 C145.85,152.45 145.65,155.53 145.5,157 C145.35,158.47 144.95,159.62 144.3,160.4 C143.65,161.18 143.87,161.25 141.6,161.7 C139.33,162.15 134.78,162.65 130.7,163.1 C126.62,163.55 121.62,163.83 117.1,164.4 C112.58,164.97 107.57,165.83 103.6,166.5 C99.63,167.17 96.12,167.62 93.3,168.4 C90.48,169.18 88.63,169.93 86.7,171.2 C84.77,172.47 83.37,173.7 81.7,176 C80.03,178.3 78.07,181.83 76.7,185 C75.33,188.17 74.33,192 73.5,195 C72.67,198 72.28,200.83 71.7,203 C71.12,205.17 70.53,206.17 70,208 C69.47,209.83 69.05,212 68.5,214 C67.95,216 67.57,218.03 66.7,220 C65.83,221.97 64.7,224.35 63.3,225.8 C61.9,227.25 60.23,228 58.3,228.7 C56.37,229.4 53.78,229.42 51.7,230 C49.62,230.58 47.05,231.78 45.8,232.2 C44.55,232.62 44.45,233.42 44.2,232.5Z" fill="none" stroke="#222" stroke-width="1.0" stroke-linejoin="round" stroke-linecap="round" />
<path d="M145.4,152.5 C145.42,153.35 145.68,156.28 145.5,157.6 C145.32,158.92 144.95,159.75 144.3,160.4 C143.65,161.05 143.87,161.07 141.6,161.5 C139.33,161.93 134.78,162.53 130.7,163 C126.62,163.47 121.62,163.75 117.1,164.3 C112.58,164.85 107.57,165.65 103.6,166.3 C99.63,166.95 96.12,167.45 93.3,168.2 C90.48,168.95 88.63,169.55 86.7,170.8 C84.77,172.05 83.1,173.83 81.7,175.7 C80.3,177.57 79.42,179.62 78.3,182 C77.18,184.38 75.88,187.67 75,190 C74.12,192.33 73.5,194.33 73,196 C72.5,197.67 72.5,198.22 72,200 C71.5,201.78 70.88,204.62 70,206.7 C69.12,208.78 68.08,210.98 66.7,212.5 C65.32,214.02 64.48,215.05 61.7,215.8 C58.92,216.55 52.92,216.85 50,217 C47.08,217.15 45.03,217.58 44.2,216.7 C43.37,215.82 44.32,213.52 45,211.7 C45.68,209.88 46.92,207.92 48.3,205.8 C49.68,203.68 51.68,200.97 53.3,199 C54.92,197.03 56.38,195.75 58,194 C59.62,192.25 61.28,190.5 63,188.5 C64.72,186.5 66.72,184.08 68.3,182 C69.88,179.92 71.1,178 72.5,176 C73.9,174 75.28,171.75 76.7,170 C78.12,168.25 79.62,166.7 81,165.5 C82.38,164.3 83.5,163.65 85,162.8 C86.5,161.95 88.03,161.27 90,160.4 C91.97,159.53 94.53,158.47 96.8,157.6 C99.07,156.73 101.33,155.77 103.6,155.2 C105.87,154.63 108.15,154.43 110.4,154.2 C112.65,153.97 114.85,153.9 117.1,153.8 C119.35,153.7 121.63,153.87 123.9,153.6 C126.17,153.33 128.43,152.77 130.7,152.2 C132.97,151.63 135.23,151.05 137.5,150.2 C139.77,149.35 143.17,147.62 144.3,147.1" fill="none" stroke="#ff2020" stroke-width="1.0" stroke-linejoin="round" stroke-linecap="round" />
<rect x="31.3" y="138.3" width="127.1" height="101.6" fill="none" stroke="#333" stroke-width="1.3"/>
<line x1="208.1" y1="149.8" x2="205.6" y2="149.8" stroke="#333" stroke-width="1.0"/>
<line x1="208.1" y1="168.1" x2="205.6" y2="168.1" stroke="#333" stroke-width="1.0"/>
<line x1="208.1" y1="186.4" x2="205.6" y2="186.4" stroke="#333" stroke-width="1.0"/>
<line x1="208.1" y1="204.7" x2="205.6" y2="204.7" stroke="#333" stroke-width="1.0"/>
<line x1="208.1" y1="223" x2="205.6" y2="223" stroke="#333" stroke-width="1.0"/>
<line x1="208.1" y1="158.95" x2="206.6" y2="158.95" stroke="#333" stroke-width="1.0"/>
<line x1="208.1" y1="177.25" x2="206.6" y2="177.25" stroke="#333" stroke-width="1.0"/>
<line x1="208.1" y1="195.55" x2="206.6" y2="195.55" stroke="#333" stroke-width="1.0"/>
<line x1="208.1" y1="213.85" x2="206.6" y2="213.85" stroke="#333" stroke-width="1.0"/>
<line x1="208.1" y1="140.65" x2="206.6" y2="140.65" stroke="#333" stroke-width="1.0"/>
<line x1="208.1" y1="232.15" x2="206.6" y2="232.15" stroke="#333" stroke-width="1.0"/>
<text x="204.3" y="152" font-family='"Liberation Serif", serif' font-size="6.4" font-weight="bold" fill="#111" text-anchor="end" >0.00</text>
<text x="204.3" y="170.3" font-family='"Liberation Serif", serif' font-size="6.4" font-weight="bold" fill="#111" text-anchor="end" >-0.04</text>
<text x="204.3" y="188.6" font-family='"Liberation Serif", serif' font-size="6.4" font-weight="bold" fill="#111" text-anchor="end" >-0.08</text>
<text x="204.3" y="206.9" font-family='"Liberation Serif", serif' font-size="6.4" font-weight="bold" fill="#111" text-anchor="end" >-0.12</text>
<text x="204.3" y="225.2" font-family='"Liberation Serif", serif' font-size="6.4" font-weight="bold" fill="#111" text-anchor="end" >-0.16</text>
<line x1="221.3" y1="237.2" x2="221.3" y2="239.7" stroke="#333" stroke-width="1.0"/>
<line x1="246.4" y1="237.2" x2="246.4" y2="239.7" stroke="#333" stroke-width="1.0"/>
<line x1="271.5" y1="237.2" x2="271.5" y2="239.7" stroke="#333" stroke-width="1.0"/>
<line x1="296.6" y1="237.2" x2="296.6" y2="239.7" stroke="#333" stroke-width="1.0"/>
<line x1="321.7" y1="237.2" x2="321.7" y2="239.7" stroke="#333" stroke-width="1.0"/>
<line x1="233.85" y1="237.2" x2="233.85" y2="238.7" stroke="#333" stroke-width="1.0"/>
<line x1="258.95" y1="237.2" x2="258.95" y2="238.7" stroke="#333" stroke-width="1.0"/>
<line x1="284.05" y1="237.2" x2="284.05" y2="238.7" stroke="#333" stroke-width="1.0"/>
<line x1="309.15" y1="237.2" x2="309.15" y2="238.7" stroke="#333" stroke-width="1.0"/>
<text x="221.3" y="246.5" font-family='"Liberation Serif", serif' font-size="6.6" font-weight="bold" fill="#111" text-anchor="middle" >0.37</text>
<text x="246.4" y="246.5" font-family='"Liberation Serif", serif' font-size="6.6" font-weight="bold" fill="#111" text-anchor="middle" >0.57</text>
<text x="271.5" y="246.5" font-family='"Liberation Serif", serif' font-size="6.6" font-weight="bold" fill="#111" text-anchor="middle" >0.77</text>
<text x="296.6" y="246.5" font-family='"Liberation Serif", serif' font-size="6.6" font-weight="bold" fill="#111" text-anchor="middle" >0.97</text>
<text x="321.7" y="246.5" font-family='"Liberation Serif", serif' font-size="6.6" font-weight="bold" fill="#111" text-anchor="middle" >1.17</text>
<text x="270.9" y="255.8" font-family='"Liberation Serif", serif' font-size="8.6" font-weight="bold" fill="#111" text-anchor="middle" >Potential / V vs RHE</text>
<text x="185.3" y="235.3" font-family='"Liberation Serif", serif' font-size="8.71" font-weight="bold" fill="#111" text-anchor="start" transform="rotate(-90 185.3 235.3)" >Current density / mA cm<tspan font-size="7.49" dx="0.8" dy="-2.1">-2</tspan></text>
<text x="211.8" y="154" font-family='"Liberation Serif", serif' font-size="19.5" font-weight="normal" fill="#111" text-anchor="start" >f</text>
<text x="229.3" y="148.4" font-family='"Liberation Serif", serif' font-size="8.5" font-weight="bold" fill="#111" text-anchor="start" letter-spacing="0.3">Cu-Au<tspan font-size="6.8" dx="0.3" dy="1.8">1.5</tspan></text>
<line x1="272.5" y1="168.5" x2="287" y2="168.5" stroke="#222" stroke-width="1.0"/>
<text x="289.3" y="170.8" font-family='"Liberation Serif", serif' font-size="6.6" font-weight="bold" fill="#111" text-anchor="start" >1<tspan font-size="4" dy="-2.5">st</tspan><tspan dy="2.5">CV</tspan></text>
<line x1="272.5" y1="178" x2="287" y2="178" stroke="#ff2020" stroke-width="1.0"/>
<text x="289.3" y="180.3" font-family='"Liberation Serif", serif' font-size="6.6" font-weight="bold" fill="#111" text-anchor="start" >500<tspan font-size="4" dy="-2.5">th</tspan><tspan dy="2.5">CV</tspan></text>
<path d="M221,223 C220.92,222.48 221.27,220.53 222,218.4 C222.73,216.27 223.85,212.92 225.4,210.2 C226.95,207.48 229.17,204.62 231.3,202.1 C233.43,199.58 235.88,198 238.2,195.1 C240.52,192.2 243.1,188.55 245.2,184.7 C247.3,180.85 249.17,175.45 250.8,172 C252.43,168.55 253.63,166.42 255,164 C256.37,161.58 257.83,159.33 259,157.5 C260.17,155.67 261,154.37 262,153 C263,151.63 263.98,150.23 265,149.3 C266.02,148.37 266.67,148.05 268.1,147.4 C269.53,146.75 271.55,145.88 273.6,145.4 C275.65,144.92 278.15,144.62 280.4,144.5 C282.65,144.38 283.72,144.62 287.1,144.7 C290.48,144.78 296.17,145.05 300.7,145 C305.23,144.95 310.87,144.6 314.3,144.4 C317.73,144.2 320.13,143.43 321.3,143.8 C322.47,144.17 321.8,145.77 321.3,146.6 C320.8,147.43 319.47,148.22 318.3,148.8 C317.13,149.38 317.23,149.65 314.3,150.1 C311.37,150.55 305.23,151.05 300.7,151.5 C296.17,151.95 291.17,152.35 287.1,152.8 C283.03,153.25 278.78,153.73 276.3,154.2 C273.82,154.67 273.57,154.92 272.2,155.6 C270.83,156.28 269.4,156.98 268.1,158.3 C266.8,159.62 265.45,161.73 264.4,163.5 C263.35,165.27 262.53,167.32 261.8,168.9 C261.07,170.48 260.63,171.15 260,173 C259.37,174.85 258.67,177.5 258,180 C257.33,182.5 256.58,186.07 256,188 C255.42,189.93 255.33,188.28 254.5,191.6 C253.67,194.92 252.17,203.25 251,207.9 C249.83,212.55 248.47,216.6 247.5,219.5 C246.53,222.4 245.97,224.02 245.2,225.3 C244.43,226.58 243.67,227 242.9,227.2 C242.13,227.4 242.15,227.2 240.6,226.5 C239.05,225.8 235.93,223.97 233.6,223 C231.27,222.03 228.45,220.95 226.6,220.7 C224.75,220.45 223.43,221.12 222.5,221.5 C221.57,221.88 221.08,223.52 221,223Z" fill="none" stroke="#222" stroke-width="1.0" stroke-linejoin="round" stroke-linecap="round" />
<path d="M220.8,217.8 C220.6,216.4 221.93,212.62 223.1,210.2 C224.27,207.78 225.67,205.62 227.8,203.3 C229.93,200.98 233.38,198.83 235.9,196.3 C238.42,193.77 240.72,192.15 242.9,188.1 C245.08,184.05 247.15,176.1 249,172 C250.85,167.9 252.45,166 254,163.5 C255.55,161 257.05,158.83 258.3,157 C259.55,155.17 260.47,153.83 261.5,152.5 C262.53,151.17 263.4,149.92 264.5,149 C265.6,148.08 266.58,147.67 268.1,147 C269.62,146.33 271.55,145.48 273.6,145 C275.65,144.52 278.15,144.2 280.4,144.1 C282.65,144 283.72,144.3 287.1,144.4 C290.48,144.5 296.17,144.77 300.7,144.7 C305.23,144.63 310.9,144.23 314.3,144 C317.7,143.77 319.97,142.92 321.1,143.3 C322.23,143.68 321.57,145.43 321.1,146.3 C320.63,147.17 319.43,147.92 318.3,148.5 C317.17,149.08 317.23,149.35 314.3,149.8 C311.37,150.25 305.23,150.75 300.7,151.2 C296.17,151.65 291.17,152.05 287.1,152.5 C283.03,152.95 278.78,153.43 276.3,153.9 C273.82,154.37 273.57,154.62 272.2,155.3 C270.83,155.98 269.45,156.67 268.1,158 C266.75,159.33 265.22,161.52 264.1,163.3 C262.98,165.08 262.17,167.25 261.4,168.7 C260.63,170.15 260.27,170.12 259.5,172 C258.73,173.88 257.63,177.12 256.8,180 C255.97,182.88 255.47,185.82 254.5,189.3 C253.53,192.78 251.77,198.18 251,200.9 C250.23,203.62 250.67,203.65 249.9,205.6 C249.13,207.55 247.57,210.87 246.4,212.6 C245.23,214.33 244.27,215.12 242.9,216 C241.53,216.88 240.13,217.38 238.2,217.9 C236.27,218.42 233.62,218.98 231.3,219.1 C228.98,219.22 226.05,218.82 224.3,218.6 C222.55,218.38 221,219.2 220.8,217.8Z" fill="none" stroke="#ff2020" stroke-width="1.0" stroke-linejoin="round" stroke-linecap="round" />
<rect x="208.1" y="135.6" width="126.4" height="101.6" fill="none" stroke="#333" stroke-width="1.3"/>
<line x1="385" y1="136.5" x2="382.5" y2="136.5" stroke="#333" stroke-width="1.0"/>
<line x1="385" y1="159.2" x2="382.5" y2="159.2" stroke="#333" stroke-width="1.0"/>
<line x1="385" y1="181.9" x2="382.5" y2="181.9" stroke="#333" stroke-width="1.0"/>
<line x1="385" y1="204.6" x2="382.5" y2="204.6" stroke="#333" stroke-width="1.0"/>
<line x1="385" y1="227.3" x2="382.5" y2="227.3" stroke="#333" stroke-width="1.0"/>
<line x1="385" y1="147.85" x2="383.5" y2="147.85" stroke="#333" stroke-width="1.0"/>
<line x1="385" y1="170.55" x2="383.5" y2="170.55" stroke="#333" stroke-width="1.0"/>
<line x1="385" y1="193.25" x2="383.5" y2="193.25" stroke="#333" stroke-width="1.0"/>
<line x1="385" y1="215.95" x2="383.5" y2="215.95" stroke="#333" stroke-width="1.0"/>
<text x="381.3" y="138.7" font-family='"Liberation Serif", serif' font-size="6.4" font-weight="bold" fill="#111" text-anchor="end" >0.05</text>
<text x="381.3" y="161.4" font-family='"Liberation Serif", serif' font-size="6.4" font-weight="bold" fill="#111" text-anchor="end" >0.00</text>
<text x="381.3" y="184.1" font-family='"Liberation Serif", serif' font-size="6.4" font-weight="bold" fill="#111" text-anchor="end" >-0.05</text>
<text x="381.3" y="206.8" font-family='"Liberation Serif", serif' font-size="6.4" font-weight="bold" fill="#111" text-anchor="end" >-0.10</text>
<text x="381.3" y="229.5" font-family='"Liberation Serif", serif' font-size="6.4" font-weight="bold" fill="#111" text-anchor="end" >-0.15</text>
<line x1="398" y1="238.4" x2="398" y2="240.9" stroke="#333" stroke-width="1.0"/>
<line x1="422.8" y1="238.4" x2="422.8" y2="240.9" stroke="#333" stroke-width="1.0"/>
<line x1="447.6" y1="238.4" x2="447.6" y2="240.9" stroke="#333" stroke-width="1.0"/>
<line x1="472.4" y1="238.4" x2="472.4" y2="240.9" stroke="#333" stroke-width="1.0"/>
<line x1="497.2" y1="238.4" x2="497.2" y2="240.9" stroke="#333" stroke-width="1.0"/>
<line x1="410.4" y1="238.4" x2="410.4" y2="239.9" stroke="#333" stroke-width="1.0"/>
<line x1="435.2" y1="238.4" x2="435.2" y2="239.9" stroke="#333" stroke-width="1.0"/>
<line x1="460" y1="238.4" x2="460" y2="239.9" stroke="#333" stroke-width="1.0"/>
<line x1="484.8" y1="238.4" x2="484.8" y2="239.9" stroke="#333" stroke-width="1.0"/>
<text x="398" y="247.3" font-family='"Liberation Serif", serif' font-size="6.6" font-weight="bold" fill="#111" text-anchor="middle" >0.37</text>
<text x="422.8" y="247.3" font-family='"Liberation Serif", serif' font-size="6.6" font-weight="bold" fill="#111" text-anchor="middle" >0.57</text>
<text x="447.6" y="247.3" font-family='"Liberation Serif", serif' font-size="6.6" font-weight="bold" fill="#111" text-anchor="middle" >0.77</text>
<text x="472.4" y="247.3" font-family='"Liberation Serif", serif' font-size="6.6" font-weight="bold" fill="#111" text-anchor="middle" >0.97</text>
<text x="497.2" y="247.3" font-family='"Liberation Serif", serif' font-size="6.6" font-weight="bold" fill="#111" text-anchor="middle" >1.17</text>
<text x="447.2" y="256.7" font-family='"Liberation Serif", serif' font-size="8.6" font-weight="bold" fill="#111" text-anchor="middle" >Potential / V vs RHE</text>
<text x="362.1" y="235.8" font-family='"Liberation Serif", serif' font-size="8.45" font-weight="bold" fill="#111" text-anchor="start" transform="rotate(-90 362.1 235.8)" >Current density / mA cm<tspan font-size="7.27" dx="0.8" dy="-2.1">-2</tspan></text>
<text x="388.8" y="151" font-family='"Liberation Serif", serif' font-size="18.5" font-weight="normal" fill="#111" text-anchor="start" >g</text>
<text x="423.3" y="158.7" font-family='"Liberation Serif", serif' font-size="8.5" font-weight="bold" fill="#111" text-anchor="start" >Au</text>
<line x1="451.7" y1="176" x2="466.7" y2="176" stroke="#222" stroke-width="1.0"/>
<text x="468.8" y="178.3" font-family='"Liberation Serif", serif' font-size="6.6" font-weight="bold" fill="#111" text-anchor="start" >1<tspan font-size="4" dy="-2.5">st</tspan><tspan dy="2.5">CV</tspan></text>
<line x1="451.7" y1="185.2" x2="466.7" y2="185.2" stroke="#ff2020" stroke-width="1.0"/>
<text x="468.8" y="187.5" font-family='"Liberation Serif", serif' font-size="6.6" font-weight="bold" fill="#111" text-anchor="start" >500<tspan font-size="4" dy="-2.5">th</tspan><tspan dy="2.5">CV</tspan></text>
<path d="M397.5,229.2 C397.22,228.5 397.6,225.12 398.3,223.3 C399,221.48 400.03,220.23 401.7,218.3 C403.37,216.37 406.37,213.78 408.3,211.7 C410.23,209.62 411.63,207.75 413.3,205.8 C414.97,203.85 416.07,202.58 418.3,200 C420.53,197.42 424.58,193.47 426.7,190.3 C428.82,187.13 429.87,183.38 431,181 C432.13,178.62 432.53,178.2 433.5,176 C434.47,173.8 435.12,170.3 436.8,167.8 C438.48,165.3 441.33,162.7 443.6,161 C445.87,159.3 448.15,158.62 450.4,157.6 C452.65,156.58 453.72,155.62 457.1,154.9 C460.48,154.18 466.17,153.62 470.7,153.3 C475.23,152.98 480,153 484.3,153 C488.6,153 494.13,152.98 496.5,153.3 C498.87,153.62 498.2,154.48 498.5,154.9 C498.8,155.32 499.08,155.38 498.3,155.8 C497.52,156.22 496.13,156.92 493.8,157.4 C491.47,157.88 488.15,158.25 484.3,158.7 C480.45,159.15 475.23,159.72 470.7,160.1 C466.17,160.48 460.48,160.73 457.1,161 C453.72,161.27 452.65,161.35 450.4,161.7 C448.15,162.05 445.42,162.3 443.6,163.1 C441.78,163.9 440.63,164.92 439.5,166.5 C438.37,168.08 437.47,170.35 436.8,172.6 C436.13,174.85 436.13,176.27 435.5,180 C434.87,183.73 433.92,190.83 433,195 C432.08,199.17 431,201.83 430,205 C429,208.17 427.83,211.63 427,214 C426.17,216.37 425.75,217.78 425,219.2 C424.25,220.62 423.88,221.87 422.5,222.5 C421.12,223.13 418.78,223.13 416.7,223 C414.62,222.87 411.95,221.65 410,221.7 C408.05,221.75 406.67,222.33 405,223.3 C403.33,224.27 401.25,226.52 400,227.5 C398.75,228.48 397.78,229.9 397.5,229.2Z" fill="none" stroke="#222" stroke-width="1.0" stroke-linejoin="round" stroke-linecap="round" />
<path d="M397.5,213.3 C397.22,212.33 398.47,208.63 400,206.7 C401.53,204.77 404.7,203.07 406.7,201.7 C408.7,200.33 409.78,200.12 412,198.5 C414.22,196.88 417.55,194.75 420,192 C422.45,189.25 424.8,185.02 426.7,182 C428.6,178.98 429.72,176.48 431.4,173.9 C433.08,171.32 434.77,168.75 436.8,166.5 C438.83,164.25 441.33,161.98 443.6,160.4 C445.87,158.82 448.15,157.92 450.4,157 C452.65,156.08 453.72,155.52 457.1,154.9 C460.48,154.28 466.17,153.7 470.7,153.3 C475.23,152.9 480.23,152.73 484.3,152.5 C488.37,152.27 492.85,151.92 495.1,151.9 C497.35,151.88 497.4,152.18 497.8,152.4 C498.2,152.62 498.17,152.78 497.5,153.2 C496.83,153.62 496,154.27 493.8,154.9 C491.6,155.53 488.15,156.32 484.3,157 C480.45,157.68 475.23,158.43 470.7,159 C466.17,159.57 460.48,160.07 457.1,160.4 C453.72,160.73 452.65,160.67 450.4,161 C448.15,161.33 445.42,161.6 443.6,162.4 C441.78,163.2 440.63,164.33 439.5,165.8 C438.37,167.27 437.48,169.67 436.8,171.2 C436.12,172.73 435.98,172.37 435.4,175 C434.82,177.63 434.33,181.95 433.3,187 C432.27,192.05 430.17,201.3 429.2,205.3 C428.23,209.3 428.2,209.38 427.5,211 C426.8,212.62 426.12,214.05 425,215 C423.88,215.95 422.47,216.7 420.8,216.7 C419.13,216.7 417.08,215.83 415,215 C412.92,214.17 410.52,212.12 408.3,211.7 C406.08,211.28 403.5,212.23 401.7,212.5 C399.9,212.77 397.78,214.27 397.5,213.3Z" fill="none" stroke="#ff2020" stroke-width="1.0" stroke-linejoin="round" stroke-linecap="round" />
<rect x="385" y="136.5" width="126.3" height="101.9" fill="none" stroke="#333" stroke-width="1.3"/>
<line x1="530" y1="171.5" x2="694.3" y2="171.5" stroke="#888" stroke-width="1.0"/>
<line x1="530" y1="204.7" x2="694.3" y2="204.7" stroke="#888" stroke-width="1.0"/>
<line x1="528.5" y1="236.7" x2="528.5" y2="239.2" stroke="#333" stroke-width="1.0"/>
<line x1="547.85" y1="236.7" x2="547.85" y2="239.2" stroke="#333" stroke-width="1.0"/>
<line x1="567.2" y1="236.7" x2="567.2" y2="239.2" stroke="#333" stroke-width="1.0"/>
<line x1="586.55" y1="236.7" x2="586.55" y2="239.2" stroke="#333" stroke-width="1.0"/>
<line x1="605.9" y1="236.7" x2="605.9" y2="239.2" stroke="#333" stroke-width="1.0"/>
<line x1="625.25" y1="236.7" x2="625.25" y2="239.2" stroke="#333" stroke-width="1.0"/>
<line x1="644.6" y1="236.7" x2="644.6" y2="239.2" stroke="#333" stroke-width="1.0"/>
<line x1="663.95" y1="236.7" x2="663.95" y2="239.2" stroke="#333" stroke-width="1.0"/>
<line x1="683.3" y1="236.7" x2="683.3" y2="239.2" stroke="#333" stroke-width="1.0"/>
<line x1="538.17" y1="236.7" x2="538.17" y2="238.2" stroke="#333" stroke-width="1.0"/>
<line x1="557.53" y1="236.7" x2="557.53" y2="238.2" stroke="#333" stroke-width="1.0"/>
<line x1="576.88" y1="236.7" x2="576.88" y2="238.2" stroke="#333" stroke-width="1.0"/>
<line x1="596.22" y1="236.7" x2="596.22" y2="238.2" stroke="#333" stroke-width="1.0"/>
<line x1="615.58" y1="236.7" x2="615.58" y2="238.2" stroke="#333" stroke-width="1.0"/>
<line x1="634.92" y1="236.7" x2="634.92" y2="238.2" stroke="#333" stroke-width="1.0"/>
<line x1="654.28" y1="236.7" x2="654.28" y2="238.2" stroke="#333" stroke-width="1.0"/>
<line x1="673.62" y1="236.7" x2="673.62" y2="238.2" stroke="#333" stroke-width="1.0"/>
<text x="0" y="0" font-family='"Liberation Serif", serif' font-size="7.2" font-weight="bold" fill="#111" text-anchor="middle" transform="translate(528.5 247.5) scale(1.15 1)" >0</text>
<text x="0" y="0" font-family='"Liberation Serif", serif' font-size="7.2" font-weight="bold" fill="#111" text-anchor="middle" transform="translate(547.85 247.5) scale(1.15 1)" >3</text>
<text x="0" y="0" font-family='"Liberation Serif", serif' font-size="7.2" font-weight="bold" fill="#111" text-anchor="middle" transform="translate(567.2 247.5) scale(1.15 1)" >6</text>
<text x="0" y="0" font-family='"Liberation Serif", serif' font-size="7.2" font-weight="bold" fill="#111" text-anchor="middle" transform="translate(586.55 247.5) scale(1.15 1)" >8</text>
<text x="0" y="0" font-family='"Liberation Serif", serif' font-size="7.2" font-weight="bold" fill="#111" text-anchor="middle" transform="translate(605.9 247.5) scale(1.15 1)" >11</text>
<text x="0" y="0" font-family='"Liberation Serif", serif' font-size="7.2" font-weight="bold" fill="#111" text-anchor="middle" transform="translate(625.25 247.5) scale(1.15 1)" >14</text>
<text x="0" y="0" font-family='"Liberation Serif", serif' font-size="7.2" font-weight="bold" fill="#111" text-anchor="middle" transform="translate(644.6 247.5) scale(1.15 1)" >17</text>
<text x="0" y="0" font-family='"Liberation Serif", serif' font-size="7.2" font-weight="bold" fill="#111" text-anchor="middle" transform="translate(663.95 247.5) scale(1.15 1)" >19</text>
<text x="0" y="0" font-family='"Liberation Serif", serif' font-size="7.2" font-weight="bold" fill="#111" text-anchor="middle" transform="translate(683.3 247.5) scale(1.15 1)" >22</text>
<text x="612.5" y="257.5" font-family='"Liberation Serif", serif' font-size="10.3" font-weight="bold" fill="#111" text-anchor="middle" >Time / h</text>
<text x="534.8" y="153.4" font-family='"Liberation Serif", serif' font-size="19" font-weight="normal" fill="#111" text-anchor="start" >h</text>
<text x="603.3" y="155.7" font-family='"Liberation Serif", serif' font-size="10.2" font-weight="bold" fill="#2233ff" text-anchor="start" >Au</text>
<text x="594" y="188.3" font-family='"Liberation Serif", serif' font-size="10.3" font-weight="bold" fill="#ff2020" text-anchor="start" >Cu-Au<tspan font-size="7.6" dy="2.4" letter-spacing="0.4">1.5</tspan></text>
<text x="603.3" y="218.3" font-family='"Liberation Serif", serif' font-size="10.2" font-weight="bold" fill="#111" text-anchor="start" >Cu</text>
<path d="M528.5,154.45 L529.7,154.89 L530.9,155.23 L532.1,155.64 L533.3,155.87 L534.5,155.99 L535.7,156.21 L536.9,156.59 L538.1,156.6 L539.3,156.73 L540.5,157.01 L541.7,157.04 L542.9,157.24 L544.1,157.3 L545.3,157.45 L546.5,157.46 L547.7,157.65 L548.9,157.8 L550.1,157.83 L551.3,157.98 L552.5,158.07 L553.7,158.02 L554.9,158.19 L556.1,158.19 L557.3,158.16 L558.5,158.13 L559.7,158.33 L560.9,158.28 L562.1,158.35 L563.3,158.42 L564.5,158.41 L565.7,158.48 L566.9,158.4 L568.1,158.51 L569.3,158.47 L570.5,158.59 L571.7,158.6 L572.9,158.45 L574.1,158.48 L575.3,158.51 L576.5,158.67 L577.7,158.58 L578.9,158.63 L580.1,158.58 L581.3,158.64 L582.5,158.63 L583.7,158.63 L584.9,158.7 L586.1,158.71 L587.3,158.79 L588.5,158.75 L589.7,158.81 L590.9,158.81 L592.1,158.84 L593.3,158.79 L594.5,158.7 L595.7,158.85 L596.9,158.88 L598.1,158.88 L599.3,158.82 L600.5,158.86 L601.7,158.77 L602.9,158.91 L604.1,158.86 L605.3,158.82 L606.5,158.78 L607.7,158.95 L608.9,158.99 L610.1,158.82 L611.3,158.97 L612.5,158.89 L613.7,158.84 L614.9,158.88 L616.1,158.98 L617.3,159 L618.5,158.84 L619.7,158.96 L620.9,158.85 L622.1,158.99 L623.3,158.92 L624.5,159.03 L625.7,159.06 L626.9,158.97 L628.1,159.07 L629.3,158.94 L630.5,158.89 L631.7,159 L632.9,158.89 L634.1,158.93 L635.3,158.98 L636.5,159.02 L637.7,158.93 L638.9,158.91 L640.1,159.07 L641.3,158.96 L642.5,159.09 L643.7,159.08 L644.9,158.98 L646.1,158.99 L647.3,159 L648.5,159.03 L649.7,159.02 L650.9,159.01 L652.1,159.02 L653.3,159.09 L654.5,159 L655.7,158.99 L656.9,159.04 L658.1,158.95 L659.3,158.96 L660.5,159.07 L661.7,158.93 L662.9,158.89 L664.1,158.73 L665.3,158.76 L666.5,158.74 L667.7,158.63 L668.9,158.79 L670.1,158.84 L671.3,158.77 L672.5,158.93 L673.7,158.94 L674.9,159.03 L676.1,158.97 L677.3,159.04 L678.5,159.05 L679.7,158.9 L680.9,158.91 L682.1,159.04 L683.3,159.09 L684.5,158.95 L685.7,158.99 L686.9,159.02 L688.1,158.96 L689.3,158.97 L690.5,158.96 L691.7,158.97 L692.9,159.02 L694.1,158.96 L695.3,158.98" fill="none" stroke="#3377dd" stroke-width="1.3" stroke-linejoin="round" stroke-linecap="round" />
<path d="M528.5,187.69 L529.7,187.89 L530.9,188.99 L532.1,189.5 L533.3,189.57 L534.5,189.86 L535.7,190.63 L536.9,190.59 L538.1,190.91 L539.3,191.44 L540.5,191.98 L541.7,191.92 L542.9,192.34 L544.1,192.61 L545.3,193.23 L546.5,193.21 L547.7,193.35 L548.9,192.64 L550.1,192.52 L551.3,192.5 L552.5,192.43 L553.7,192.05 L554.9,192.16 L556.1,192.35 L557.3,192.85 L558.5,192.82 L559.7,193.46 L560.9,193.46 L562.1,192.91 L563.3,192.88 L564.5,193.16 L565.7,192.94 L566.9,192.96 L568.1,192.54 L569.3,192.3 L570.5,192.33 L571.7,192.62 L572.9,192.2 L574.1,192.2 L575.3,192.19 L576.5,192.13 L577.7,192.07 L578.9,192.37 L580.1,191.78 L581.3,191.61 L582.5,192.21 L583.7,192.11 L584.9,192.13 L586.1,191.68 L587.3,192.01 L588.5,191.97 L589.7,191.46 L590.9,191.81 L592.1,191.86 L593.3,191.72 L594.5,191.6 L595.7,191.42 L596.9,191.44 L598.1,191.34 L599.3,191.22 L600.5,191.56 L601.7,191.33 L602.9,191.68 L604.1,191.13 L605.3,191.71 L606.5,191.55 L607.7,191.69 L608.9,191.66 L610.1,191.64 L611.3,191.4 L612.5,190.99 L613.7,191.48 L614.9,191.06 L616.1,191.14 L617.3,191.37 L618.5,191.26 L619.7,191.17 L620.9,191.52 L622.1,191.27 L623.3,191.07 L624.5,190.99 L625.7,191.4 L626.9,191.11 L628.1,191.31 L629.3,190.99 L630.5,190.87 L631.7,191.09 L632.9,191.27 L634.1,190.8 L635.3,191.22 L636.5,191.29 L637.7,191.2 L638.9,191.19 L640.1,190.6 L641.3,191.02 L642.5,191.17 L643.7,190.58 L644.9,190.72 L646.1,190.7 L647.3,190.87 L648.5,190.78 L649.7,190.8 L650.9,190.99 L652.1,190.32 L653.3,190.21 L654.5,190.12 L655.7,189.97 L656.9,189.81 L658.1,190.32 L659.3,190.12 L660.5,189.46 L661.7,189.7 L662.9,189.57 L664.1,189.57 L665.3,189.6 L666.5,189.8 L667.7,189.76 L668.9,189.6 L670.1,189.48 L671.3,189.58 L672.5,189.44 L673.7,189.74 L674.9,189.85 L676.1,189.62 L677.3,189.41 L678.5,189.47 L679.7,189.61 L680.9,189.77 L682.1,189.92 L683.3,189.66 L684.5,189.98 L685.7,189.87 L686.9,189.76 L688.1,189.74 L689.3,189.85 L690.5,190.02 L691.7,189.84 L692.9,190.06 L694.1,189.92 L695.3,189.79" fill="none" stroke="#ff2020" stroke-width="1.35" stroke-linejoin="round" stroke-linecap="round" />
<path d="M528.5,215.83 L529.7,218.66 L530.9,219.58 L532.1,220.74 L533.3,221.65 L534.5,222.05 L535.7,222.17 L536.9,221.86 L538.1,222.31 L539.3,222.31 L540.5,222.03 L541.7,222.25 L542.9,222.09 L544.1,222.66 L545.3,222.66 L546.5,223.01 L547.7,223.14 L548.9,223.24 L550.1,223.44 L551.3,223 L552.5,222.36 L553.7,222.39 L554.9,221.68 L556.1,221.31 L557.3,221.55 L558.5,221.68 L559.7,221.71 L560.9,221.72 L562.1,222.26 L563.3,221.76 L564.5,221.63 L565.7,222.19 L566.9,221.67 L568.1,222.16 L569.3,222.03 L570.5,222.13 L571.7,222.2 L572.9,221.92 L574.1,222.06 L575.3,221.51 L576.5,222.01 L577.7,221.82 L578.9,221.94 L580.1,221.5 L581.3,221.94 L582.5,222.05 L583.7,221.43 L584.9,221.6 L586.1,221.75 L587.3,221.92 L588.5,221.49 L589.7,221.43 L590.9,221.46 L592.1,221.69 L593.3,221.77 L594.5,221.5 L595.7,221.46 L596.9,221.46 L598.1,221.41 L599.3,221.44 L600.5,221.19 L601.7,221.46 L602.9,221.77 L604.1,221.36 L605.3,221.58 L606.5,221.15 L607.7,221.5 L608.9,221.52 L610.1,221.45 L611.3,221.32 L612.5,221.24 L613.7,221.28 L614.9,221.39 L616.1,220.79 L617.3,220.68 L618.5,221.06 L619.7,221.11 L620.9,220.76 L622.1,220.63 L623.3,220.75 L624.5,220.31 L625.7,220.29 L626.9,220.17 L628.1,220.37 L629.3,220.15 L630.5,220.07 L631.7,220.37 L632.9,220.53 L634.1,220.05 L635.3,220.31 L636.5,220.09 L637.7,220.37 L638.9,220.16 L640.1,219.92 L641.3,219.86 L642.5,219.7 L643.7,220 L644.9,219.93 L646.1,219.82 L647.3,219.98 L648.5,219.98 L649.7,220.33 L650.9,219.92 L652.1,220.54 L653.3,220.21 L654.5,220.32 L655.7,220.26 L656.9,220.55 L658.1,220.57 L659.3,220.41 L660.5,220.39 L661.7,220.59 L662.9,220.71 L664.1,220.43 L665.3,220.67 L666.5,220.85 L667.7,220.52 L668.9,220.36 L670.1,220.38 L671.3,220.73 L672.5,220.71 L673.7,220.93 L674.9,220.87 L676.1,220.45 L677.3,220.43 L678.5,220.49 L679.7,220.45 L680.9,220.83 L682.1,220.95 L683.3,220.99 L684.5,220.56 L685.7,221 L686.9,220.62 L688.1,220.71 L689.3,220.94 L690.5,220.5 L691.7,220.42 L692.9,220.78 L694.1,220.24 L695.3,220.13" fill="none" stroke="#111" stroke-width="1.6" stroke-linejoin="round" stroke-linecap="round" />
<rect x="528.5" y="137.4" width="167.8" height="99.3" fill="none" stroke="#333" stroke-width="1.3"/>
<line x1="528.5" y1="188.5" x2="528.5" y2="217" stroke="#ff2020" stroke-width="1.2"/>
<line x1="528.5" y1="152.5" x2="528.5" y2="155" stroke="#3377dd" stroke-width="1.2"/>
</svg>
</body></html>
